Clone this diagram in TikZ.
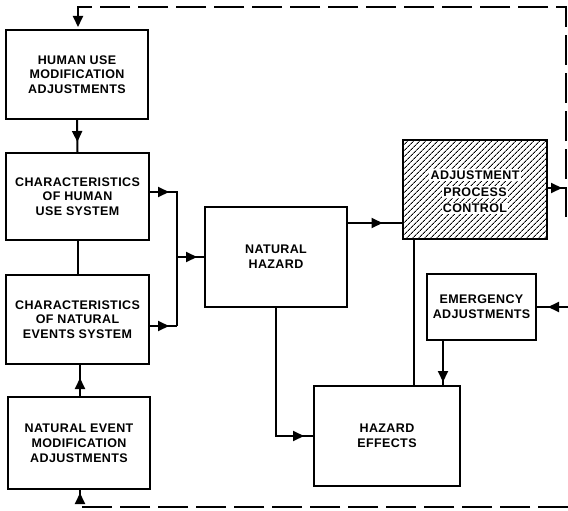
\documentclass[tikz,border=0pt]{standalone}
\usepackage{fontspec}
\setmainfont{Liberation Sans}[LetterSpace=3]
\usetikzlibrary{arrows.meta,decorations.markings,patterns.meta}

\tikzset{
  txt/.style={font=\bfseries\fontsize{12.5}{14.8}\selectfont},
  box/.style={draw, line width=2pt, align=center, inner sep=0pt, txt},
  lbl/.style={fill=white, inner sep=1.2pt, txt},
  link/.style={line width=2pt},
  fb/.style={line width=2pt, dash pattern=on 30pt off 8pt},
  tip/.style={postaction={decorate}, decoration={markings, mark=at position #1 with {\arrow{Triangle[length=11pt,width=10pt]}}}},
}

\begin{document}
\begin{tikzpicture}[x=1pt,y=-1pt]
    \useasboundingbox (0,0) rectangle (568,511);

    \node[box, minimum width=142pt, minimum height=89pt] (hum) at (77,74.5) {HUMAN USE\\MODIFICATION\\ADJUSTMENTS};
    \node[box, minimum width=143pt, minimum height=87pt] (chu) at (77.5,196.5) {CHARACTERISTICS\\OF HUMAN\\USE SYSTEM};
    \node[box, minimum width=143pt, minimum height=89pt] (cne) at (77.5,319.5) {CHARACTERISTICS\\OF NATURAL\\EVENTS SYSTEM};
    \node[box, minimum width=142pt, minimum height=92pt] (nem) at (79,443) {NATURAL EVENT\\MODIFICATION\\ADJUSTMENTS};
    \node[box, minimum width=142pt, minimum height=100pt] (nh) at (276,257) {NATURAL\\HAZARD};
    \node[box, minimum width=109pt, minimum height=66pt] (emg) at (481.5,307) {EMERGENCY\\ADJUSTMENTS};
    \node[box, minimum width=146pt, minimum height=100pt] (he) at (387,436) {HAZARD\\EFFECTS};

    \node[box, pattern={Lines[angle=45,distance=4pt,line width=1pt]}, minimum width=144pt, minimum height=99pt] (apc) at (475,189.5) {};
    \node[lbl] (apc1) at (475,175) {ADJUSTMENT};
    \node[lbl] (apc2) at (475,192) {PROCESS};
    \node[lbl] (apc3) at (475,208.5) {CONTROL};

    \coordinate (tr) at (566,217);
    \coordinate (tc) at (566,7);
    \coordinate (tl) at (78,7);
    \coordinate (br) at (568,507);
    \coordinate (bl) at (80,507);
    \coordinate (ja) at (177,192);
    \coordinate (jn) at (177,257);
    \coordinate (jb) at (177,326);
    \coordinate (er) at (568,307);

    \draw[fb, tip=-2pt] (tr) -- (tc) -- (tl) -- (tl |- hum.north);
    \draw[fb, tip=-3pt] (br) -- (bl) -- (bl |- nem.south);

    \draw[link, tip=-10pt] (hum.south) -- (chu.north);
    \draw[link] (chu.south) -- (cne.north);
    \draw[link, tip=-13pt] (bl |- nem.north) -- (bl |- cne.south);

    \draw[link, tip=19pt] ([yshift=4.5pt]chu.east) -- (ja) -- (jb);
    \draw[link, tip=19pt] ([yshift=-6.5pt]cne.east) -- (jb);
    \draw[link, tip=-7pt] (jn) -- (nh.west);

    \draw[link, tip=-20pt] ([yshift=34pt]nh.east) -- ([yshift=34pt]nh.east -| apc.west);
    \draw[link, tip=-9pt] (nh.south) -- (nh.south |- he.west) -- (he.west);
    \draw[link] ([xshift=-61pt]apc.south) -- ([xshift=-61pt]apc.south |- he.north);
    \draw[link, tip=-3pt] ([xshift=-38.5pt]emg.south) -- ([xshift=-38.5pt]emg.south |- he.north);
    \draw[link, tip=-4pt] ([yshift=1.5pt]apc.east) -- ([yshift=1.5pt]apc.east -| tr);
    \draw[link, tip=-11pt] (er) -- (emg.east);
\end{tikzpicture}
\end{document}
